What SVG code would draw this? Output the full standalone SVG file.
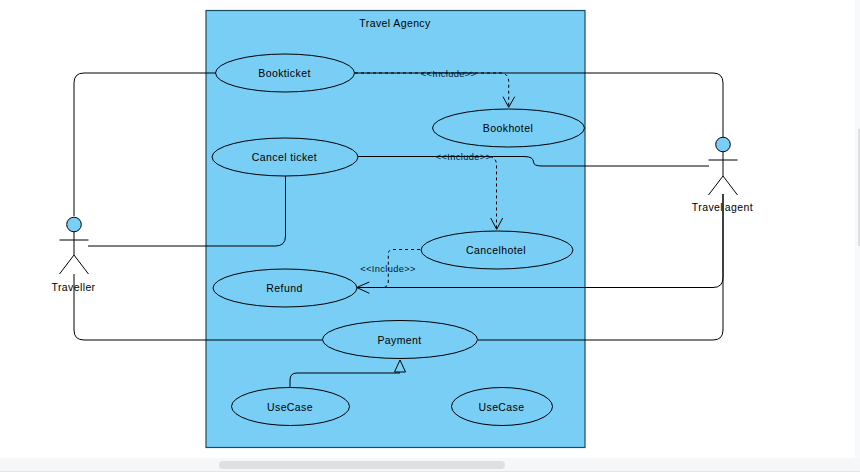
<svg xmlns="http://www.w3.org/2000/svg" width="860" height="472" viewBox="0 0 860 472">
<style>
text{font-family:"Liberation Sans",Arial,sans-serif;font-size:10.5px;fill:#000;text-anchor:middle;letter-spacing:.4px}
.uc ellipse{fill:#79cef6;stroke:#000;stroke-width:1}
.c{fill:none;stroke:#000;stroke-width:1}
.d{fill:none;stroke:#000;stroke-width:1;stroke-dasharray:3 3}
.a{fill:none;stroke:#000;stroke-width:1}
.actor path{fill:none;stroke:#000;stroke-width:1}
.actor circle{fill:#79cef6;stroke:#000;stroke-width:1}
.inc{font-size:9.3px;fill:#001a33;letter-spacing:.35px}
</style>
<rect width="860" height="472" fill="#fff"/>
<rect x="855" y="0" width="5" height="458" fill="#f8f9fb"/>
<rect x="858" y="129" width="2" height="117" fill="#e0e1e3"/>
<rect x="0" y="458" width="860" height="13" fill="#f6f7f9"/>
<rect x="0" y="471" width="860" height="1" fill="#e4e5e7"/>
<rect x="219" y="461" width="286" height="8" rx="4" fill="#dfe0e2"/>
<g id="system">
<rect x="206" y="10.500" width="379" height="437" fill="#79cef6" stroke="#1d4a63" stroke-width="1.200"/>
<text x="395" y="27">Travel Agency</text>
</g>
<g id="connectors">
<path class="c" d="M216 73H84Q74 73 74 83V216"/>
<path class="c" d="M355 73H713Q723 73 723 83V138"/>
<path class="c" d="M358 156.500H524Q533.500 156.500 533.500 162Q533.500 166 542 166H709"/>
<path class="c" d="M285.500 176V236Q285.500 246 275.500 246H88"/>
<path class="c" d="M74 274V330Q74 340 84 340H323"/>
<path class="c" d="M478 340H713Q723 340 723 330V194"/>
<path class="c" d="M357 287.500H713Q723 287.500 723 277.500V194"/>
<path class="d" d="M355 73H500Q508.700 73 508.700 82V107"/>
<path class="a" d="M503 96.700L508.700 107.300L514.700 96.700"/>
<path class="d" d="M358 156.500H487Q496.500 156.500 496.500 165V229"/>
<path class="a" d="M490.700 218L496.700 229.300L502.700 218"/>
<path class="d" d="M420 249.500H393Q388.300 249.500 388.300 254V281Q388.300 287.500 382 287.500H357"/>
<path class="a" d="M369.300 282L356.700 287.500L369.300 293.300"/>
<path class="c" d="M290 387V380Q290 373 297 373H400"/>
<path d="M400 360L394.500 372H405.500Z" fill="#79cef6" stroke="#000" stroke-width="1"/>
</g>
<g id="uc-bookticket" class="uc"><ellipse cx="285" cy="73" rx="69.500" ry="19"/><text x="284.500" y="77">Bookticket</text></g>
<g id="uc-bookhotel" class="uc"><ellipse cx="508.500" cy="128" rx="76" ry="19"/><text x="508" y="132">Bookhotel</text></g>
<g id="uc-cancelticket" class="uc"><ellipse cx="285" cy="157" rx="73" ry="19"/><text x="284.500" y="161">Cancel ticket</text></g>
<g id="uc-cancelhotel" class="uc"><ellipse cx="497" cy="250" rx="76" ry="19"/><text x="496" y="254">Cancelhotel</text></g>
<g id="uc-refund" class="uc"><ellipse cx="285" cy="288" rx="72" ry="19"/><text x="284.500" y="292">Refund</text></g>
<g id="uc-payment" class="uc"><ellipse cx="400" cy="339.500" rx="77.500" ry="19"/><text x="399.500" y="344">Payment</text></g>
<g id="uc-usecase1" class="uc"><ellipse cx="290.500" cy="406.500" rx="59" ry="19"/><text x="290" y="411">UseCase</text></g>
<g id="uc-usecase2" class="uc"><ellipse cx="502" cy="406.500" rx="50.500" ry="19"/><text x="501.500" y="411">UseCase</text></g>
<g id="labels">
<text class="inc" x="448.500" y="77">&lt;&lt;Include&gt;&gt;</text>
<text class="inc" x="463.500" y="160">&lt;&lt;Include&gt;&gt;</text>
<text class="inc" x="388" y="272">&lt;&lt;Include&gt;&gt;</text>
</g>
<g id="actor-traveller" class="actor"><circle cx="74" cy="224.500" r="7.300"/><path d="M74 232V255M59.500 240H88.500M74 255L59.500 274M74 255L88.500 274"/><text x="73.500" y="291">Traveller</text></g>
<g id="actor-travelagent" class="actor"><circle cx="723" cy="144.500" r="7.300"/><path d="M723 152V176M708.500 160H737.500M723 176L708.500 195M723 176L737.500 195"/><text x="722.500" y="211" word-spacing="-1.500">Travel agent</text></g>
</svg>
